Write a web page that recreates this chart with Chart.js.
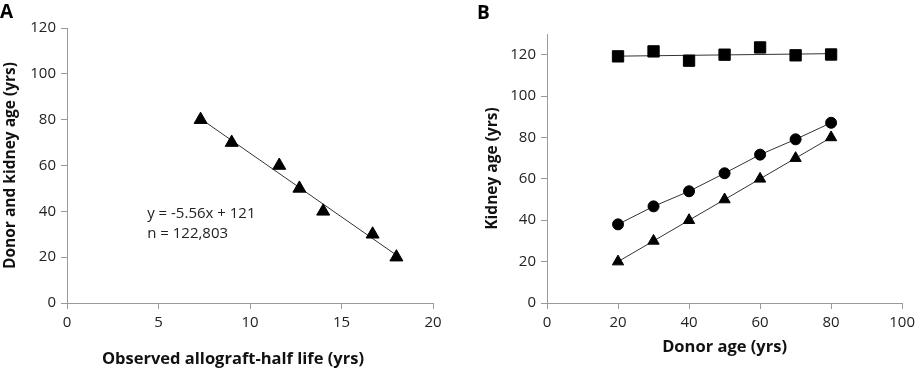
<!DOCTYPE html>
<html><head><meta charset="utf-8">
<script src="https://cdn.jsdelivr.net/npm/chart.js@4/dist/chart.umd.min.js"></script>
<style>
body{margin:0;background:#fff;width:920px;height:376px;position:relative;overflow:hidden;font-family:"Open Sans",sans-serif}
.wrap{position:absolute;top:0;height:376px;width:460px}
#wa{left:0}#wb{left:460px}
.lbl{position:absolute;font-weight:bold;font-size:19px;font-family:"Open Sans",sans-serif;line-height:1}
.xt{position:absolute;font-weight:bold;font-size:16.5px;font-family:"Open Sans",sans-serif;white-space:nowrap;transform:translate(-50%,-50%);color:#111}
</style></head><body>
<div class="wrap" id="wa"><canvas id="ca" width="460" height="376"></canvas></div>
<div class="wrap" id="wb"><canvas id="cb" width="460" height="376"></canvas></div>
<div class="lbl" style="left:0;top:2px">A</div>
<div class="lbl" style="left:477px;top:3px">B</div>
<div class="xt" style="left:233px;top:357px">Observed allograft-half life (yrs)</div>
<script>
// Panel A data
const halfLifeA = [7.3, 9.0, 11.6, 12.7, 14.0, 16.7, 18.0];
const ageA = [80, 70, 60, 50, 40, 30, 20];
const fitXA = [7.3, 18.0];
const fitYA = [80.4, 20.9];
const eqText = "y = -5.56x + 121";
const nText = "n = 122,803";
// Panel B data
const donorAgeB = [20, 30, 40, 50, 60, 70, 80];
const squaresB = [119.2, 121.6, 117.1, 120.0, 123.5, 119.7, 120.1];
const circlesB = [38.0, 46.7, 54.0, 62.7, 71.7, 79.1, 87.1];
const trianglesB = [20, 30, 40, 50, 60, 70, 80];
const squareFitX = [20, 80];
const squareFitY = [119.3, 120.5];

const pts = (xs, ys) => xs.map((x, i) => ({x, y: ys[i]}));
const AX = '#9a9a9a';
const TICKC = '#222';
const tickFont = {family: '"Open Sans", sans-serif', size: 15};
const yTitleFont = {family: '"Open Sans", sans-serif', size: 15.5, weight: 'bold'};
const xTitleFont = {family: '"Open Sans", sans-serif', size: 16.5, weight: 'bold'};

function axis(min, max, step, extra) {
  return Object.assign({
    type: 'linear', min, max,
    ticks: {stepSize: step, includeBounds: false, color: TICKC, font: tickFont, padding: 5},
    grid: {drawOnChartArea: false, drawTicks: true, tickLength: 6, color: AX},
    border: {display: true, color: AX, width: 1}
  }, extra || {});
}

const annot = {
  id: 'annot',
  afterDatasetsDraw(c) {
    if (c.canvas.id !== 'ca') return;
    const {ctx, scales: {x, y}} = c;
    ctx.save();
    ctx.font = '15px "Open Sans", sans-serif';
    ctx.fillStyle = '#222';
    ctx.textBaseline = 'middle';
    ctx.fillText(eqText, x.getPixelForValue(4.38), y.getPixelForValue(38.9));
    ctx.fillText(nText, x.getPixelForValue(4.38), y.getPixelForValue(30.2));
    ctx.restore();
  }
};

new Chart(document.getElementById('ca'), {
  type: 'scatter',
  data: {datasets: [
    {data: pts(halfLifeA, ageA), pointStyle: 'triangle', pointRadius: 7.5, backgroundColor: '#000', borderColor: '#000', borderWidth: 1, showLine: false},
    {data: pts(fitXA, fitYA), showLine: true, pointRadius: 0, borderColor: '#333', borderWidth: 1}
  ]},
  options: {
    responsive: false, animation: false,
    layout: {padding: {top: 28, right: 27, left: 0, bottom: 0}},
    plugins: {legend: {display: false}, tooltip: {enabled: false}},
    scales: {
      x: axis(0, 20, 5, {afterFit(s) { s.height = 73; }, title: {display: false}}),
      y: axis(0, 120, 20, {afterFit(s) { s.width = 67; },
        title: {display: true, text: 'Donor and kidney age (yrs)', font: yTitleFont, color: '#111', padding: {top: 1, bottom: 0}}})
    }
  },
  plugins: [annot]
});

new Chart(document.getElementById('cb'), {
  type: 'scatter',
  data: {datasets: [
    {data: pts(donorAgeB, squaresB), pointStyle: 'rect', pointRadius: 8, backgroundColor: '#000', borderColor: '#000', borderWidth: 1, showLine: false},
    {data: pts(donorAgeB, circlesB), pointStyle: 'circle', pointRadius: 5.5, backgroundColor: '#000', pointBorderColor: '#000', borderColor: '#333', borderWidth: 1, showLine: true, tension: 0},
    {data: pts(donorAgeB, trianglesB), pointStyle: 'triangle', pointRadius: 6.5, backgroundColor: '#000', pointBorderColor: '#000', borderColor: '#333', borderWidth: 1, showLine: true, tension: 0},
    {data: pts(squareFitX, squareFitY), showLine: true, pointRadius: 0, borderColor: '#333', borderWidth: 1}
  ]},
  options: {
    responsive: false, animation: false,
    layout: {padding: {top: 34, right: 14, left: 0, bottom: 0}},
    plugins: {legend: {display: false}, tooltip: {enabled: false}},
    scales: {
      x: axis(0, 100, 20, {afterFit(s) { s.height = 73; },
        title: {display: true, text: 'Donor age (yrs)', font: xTitleFont, color: '#111', padding: {top: 0, bottom: 19}}}),
      y: axis(0, 130, 20, {afterFit(s) { s.width = 87; },
        title: {display: true, text: 'Kidney age (yrs)', font: yTitleFont, color: '#111', padding: {top: 23, bottom: 0}}})
    }
  }
});
</script>
</body></html>
